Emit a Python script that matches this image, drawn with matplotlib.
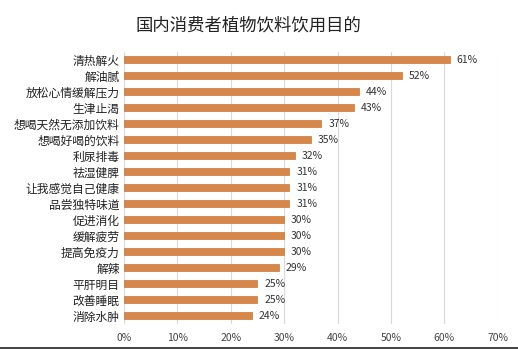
import matplotlib.pyplot as plt
from matplotlib.lines import Line2D

plt.rcParams['font.family'] = ['Noto Sans CJK SC', 'DejaVu Sans']

# 国内消费者植物饮料饮用目的
categories = ['清热解火', '解油腻', '放松心情缓解压力', '生津止渴', '想喝天然无添加饮料',
              '想喝好喝的饮料', '利尿排毒', '祛湿健脾', '让我感觉自己健康', '品尝独特味道',
              '促进消化', '缓解疲劳', '提高免疫力', '解辣', '平肝明目', '改善睡眠', '消除水肿']
values = [61, 52, 44, 43, 37, 35, 32, 31, 31, 31, 30, 30, 30, 29, 25, 25, 24]
xticks = [0, 10, 20, 30, 40, 50, 60, 70]
xtick_labels = ['0%', '10%', '20%', '30%', '40%', '50%', '60%', '70%']

fig = plt.figure(figsize=(5.18, 3.49), dpi=100)
ax = fig.add_axes([0.239, 0.073, 0.722, 0.779])

pos = list(range(len(categories)))
ax.barh(pos, values, height=0.42, color='#D8874B', edgecolor='#C9773C', linewidth=0.5, zorder=3)
for p, v in zip(pos, values):
    ax.text(v + 1.3, p, f'{v}%', va='center', ha='left', fontsize=7.5, color='#333333')

ax.set_ylim(len(categories) - 0.5, -0.5)
ax.set_xlim(0, 70)
ax.set_yticks(pos)
ax.set_yticklabels(categories, fontsize=8.5, color='#222222')
ax.tick_params(axis='both', length=0, pad=3)
ax.set_xticks(xticks)
ax.set_xticklabels(xtick_labels, fontsize=7.5, color='#444444')
ax.tick_params(axis='x', pad=7)
ax.grid(axis='x', color='#D9D9D9', linewidth=0.8, zorder=0)
for s in ax.spines.values():
    s.set_visible(False)

fig.text(0.479, 0.928, '国内消费者植物饮料饮用目的', ha='center', va='center', fontsize=12.5, color='#222222')
fig.add_artist(Line2D([0, 1], [0.004, 0.004], color='#222222', linewidth=1.2, transform=fig.transFigure))

fig.savefig('out.png', dpi=100)
